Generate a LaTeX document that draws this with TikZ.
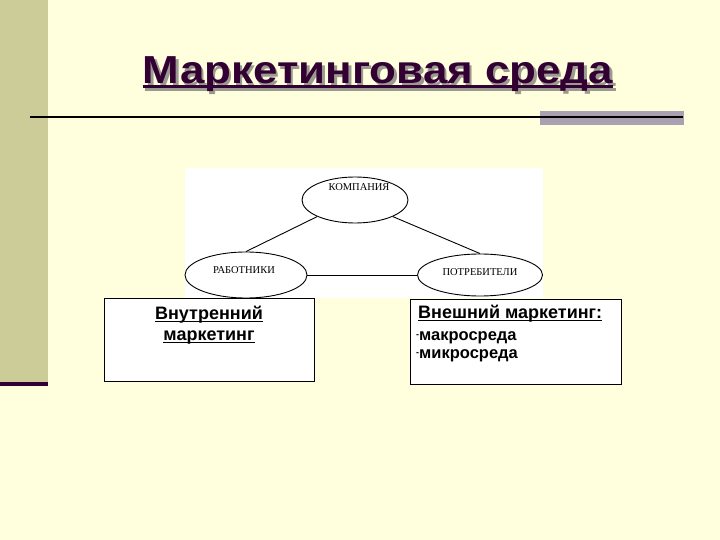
\documentclass[tikz,border=0pt]{standalone}
\usepackage{fontspec}
\setmainfont{Liberation Sans}
\newfontfamily\scanserif{Liberation Serif}
\usetikzlibrary{shapes.geometric}
\definecolor{bgyellow}{HTML}{FFFFDD}
\definecolor{olivebar}{HTML}{CCCC99}
\definecolor{darkplum}{HTML}{330033}
\definecolor{graybar}{HTML}{A9A1B1}
\definecolor{shadowgray}{HTML}{9A9A90}
\newcommand{\myul}[3]{\setbox0\hbox{#3}\rlap{\rule[-#2]{\wd0}{#1}}\box0}
\tikzset{
  ell/.style={ellipse, draw=black, line width=0.9pt, fill=white, inner sep=0pt},
  elltext/.style={font=\scanserif\fontsize{10.5}{12}\selectfont, inner sep=0pt},
  box/.style={draw=black, line width=0.8pt, fill=white},
  headtext/.style={font=\bfseries\fontsize{18}{20}\selectfont, inner sep=0pt, anchor=base},
  listtext/.style={font=\bfseries\fontsize{16.5}{18}\selectfont, inner sep=0pt, anchor=base west},
  titletext/.style={font=\bfseries\fontsize{42}{48}\selectfont, inner sep=0pt, anchor=base}
}
\begin{document}
\begin{tikzpicture}[x=1pt,y=-1pt]
\useasboundingbox (0,0) rectangle (720,540);
\fill[bgyellow] (0,0) rectangle (720,540);
\fill[olivebar] (0,0) rectangle (48,382);
\fill[darkplum] (0,382) rectangle (48,386);
% title
\node[titletext, text=shadowgray] (titleshadow) at (380.5,86.5) {\scalebox{1.045}[0.93]{\myul{3pt}{4.5pt}{Маркетинговая среда}}};
\node[titletext, text=darkplum] (title) at (378,84) {\scalebox{1.045}[0.93]{\myul{3pt}{4.5pt}{Маркетинговая среда}}};
% rule
\fill[graybar] (540,111) rectangle (684,125);
\draw[line width=2.2pt, black] (30,117) -- (683,117);
% diagram picture
\fill[white] (185,168) rectangle (543,298);
\node[ell, minimum width=106pt, minimum height=46pt] (komp) at (355,200) {};
\node[ell, minimum width=122pt, minimum height=46pt] (rab) at (246,275) {};
\node[ell, minimum width=125pt, minimum height=42pt] (potr) at (480,275) {};
\node[elltext] (kompL) at (359,187) {КОМПАНИЯ};
\node[elltext] (rabL) at (244,270) {РАБОТНИКИ};
\node[elltext] (potrL) at (480,272) {ПОТРЕБИТЕЛИ};
\draw[line width=0.9pt] (komp.south west) -- (rab.north);
\draw[line width=0.9pt] (komp.south east) -- (potr.north);
\draw[line width=0.9pt] (rab.east) -- (potr.west);
% boxes
\draw[box] (104,298) rectangle (314,381);
\draw[box] (410,299) rectangle (621,384);
\node[headtext] (inner1) at (209,319) {\myul{1.3pt}{3pt}{Внутренний}};
\node[headtext] (inner2) at (209,340) {\myul{1.3pt}{3pt}{маркетинг}};
\node[headtext, anchor=base west] (outer) at (418,318) {\myul{1.3pt}{3pt}{Внешний маркетинг:}};
\node[listtext] (macro) at (416,340) {\raisebox{3pt}{\fontsize{9}{9}\selectfont -}макросреда};
\node[listtext] (micro) at (416,358) {\raisebox{3pt}{\fontsize{9}{9}\selectfont -}микросреда};
\end{tikzpicture}
\end{document}
